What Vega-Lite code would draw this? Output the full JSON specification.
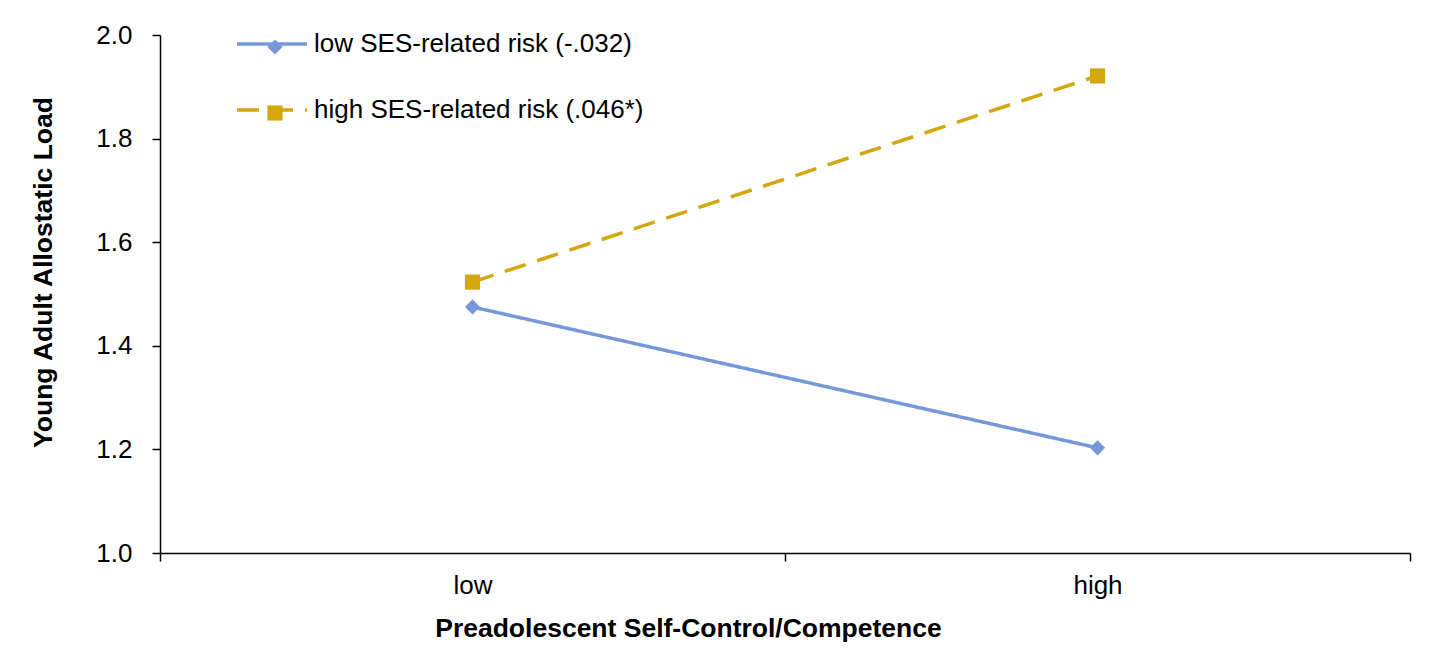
{
  "$schema": "https://vega.github.io/schema/vega-lite/v6.json",
  "width": 1250,
  "height": 518,
  "autosize": {"type": "none"},
  "padding": {"left": 160, "top": 35, "right": 24, "bottom": 108},
  "background": "white",
  "config": {
    "font": "Liberation Sans",
    "view": {"stroke": null},
    "axis": {
      "grid": false,
      "domainColor": "#000000",
      "tickColor": "#000000",
      "labelColor": "#000000",
      "titleColor": "#000000",
      "labelFont": "Liberation Sans",
      "titleFont": "Liberation Sans",
      "labelFontSize": 26,
      "titleFontSize": 26.5,
      "titleFontWeight": "bold",
      "domainWidth": 1.5,
      "tickWidth": 1.5,
      "tickSize": 8
    },
    "legend": {"labelFont": "Liberation Sans", "labelFontSize": 26, "labelColor": "#000000", "labelLimit": 0}
  },
  "data": {
    "values": [
      {"series": "low SES-related risk (-.032)", "level": "low", "load": 1.475},
      {"series": "low SES-related risk (-.032)", "level": "high", "load": 1.203},
      {"series": "high SES-related risk (.046*)", "level": "low", "load": 1.523},
      {"series": "high SES-related risk (.046*)", "level": "high", "load": 1.921}
    ]
  },
  "layer": [
    {
      "mark": {"type": "line", "strokeWidth": 3.5},
      "encoding": {
        "x": {
          "field": "level", "type": "nominal", "sort": ["low", "high"],
          "scale": {"type": "band", "paddingInner": 0, "paddingOuter": 0},
          "axis": {"title": "Preadolescent Self-Control/Competence", "labelAngle": 0, "tickBand": "extent", "labelPadding": 11, "titlePadding": 17, "titleX": 528}
        },
        "y": {
          "field": "load", "type": "quantitative",
          "scale": {"domain": [1, 2], "zero": false, "nice": false},
          "axis": {"title": "Young Adult Allostatic Load", "values": [1, 1.2, 1.4, 1.6, 1.8, 2.0], "format": ".1f", "labelPadding": 20, "titlePadding": 38, "titleY": 237}
        },
        "color": {
          "field": "series", "type": "nominal",
          "scale": {"domain": ["low SES-related risk (-.032)", "high SES-related risk (.046*)"], "range": ["#7698DA", "#D4A70C"]},
          "legend": {"title": null, "orient": "none", "legendX": 75, "legendY": -28, "symbolType": "stroke", "symbolSize": 4900, "symbolStrokeWidth": 3.5, "rowPadding": 16, "labelOffset": 5}
        },
        "strokeDash": {
          "field": "series", "type": "nominal",
          "scale": {"domain": ["low SES-related risk (-.032)", "high SES-related risk (.046*)"], "range": [[1, 0], [22, 12]]},
          "legend": {"title": null, "orient": "none", "legendX": 75, "legendY": -28, "symbolType": "stroke", "symbolSize": 4900, "symbolStrokeWidth": 3.5, "rowPadding": 16, "labelOffset": 5}
        }
      }
    },
    {
      "mark": {"type": "point", "filled": true, "opacity": 1, "size": 230},
      "encoding": {
        "x": {"field": "level", "type": "nominal", "sort": ["low", "high"]},
        "y": {"field": "load", "type": "quantitative"},
        "color": {
          "field": "series", "type": "nominal",
          "scale": {"domain": ["low SES-related risk (-.032)", "high SES-related risk (.046*)"], "range": ["#7698DA", "#D4A70C"]},
          "legend": {"title": null, "orient": "none", "legendX": 102, "legendY": -1, "symbolSize": 230, "labelExpr": "''", "rowPadding": 40, "symbolOpacity": 1}
        },
        "shape": {
          "field": "series", "type": "nominal",
          "scale": {"domain": ["low SES-related risk (-.032)", "high SES-related risk (.046*)"], "range": ["diamond", "square"]},
          "legend": {"title": null, "orient": "none", "legendX": 102, "legendY": -1, "symbolSize": 230, "labelExpr": "''", "rowPadding": 40, "symbolOpacity": 1}
        }
      }
    }
  ],
  "resolve": {"legend": {"color": "independent", "shape": "independent", "strokeDash": "independent"}}
}
